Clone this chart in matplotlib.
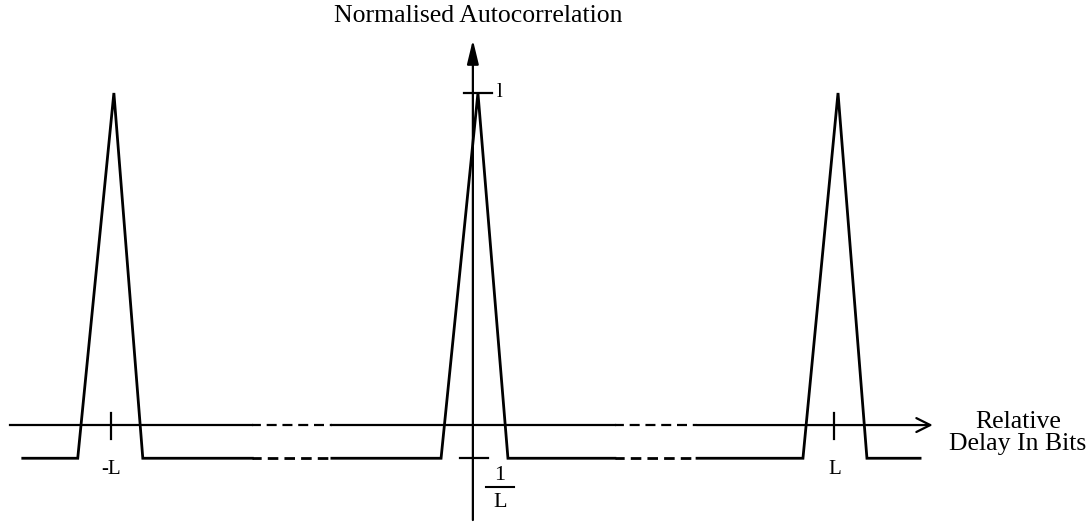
import matplotlib
matplotlib.use('Agg')
from matplotlib import pyplot as plt

plt.rcParams['font.family'] = ['Liberation Serif', 'DejaVu Serif']

# sequence length, peaks at -L, 0, L ; floor at -1/L
L = 10

# autocorrelation trace (x in bits, y normalised)
corr_x = [-12.45, -10.93, -9.93, -9.13, -6.1,
          -3.9, -0.88, 0.14, 0.97, 3.93,
          6.2, 9.13, 10.1, 10.9, 12.37]
corr_y = [-0.1, -0.1, 1.0, -0.1, -0.1,
          -0.1, -0.1, 1.0, -0.1, -0.1,
          -0.1, -0.1, 1.0, -0.1, -0.1]

# the parts of the trace and x axis that are drawn dashed
gap_left = (-6.1, -3.9)
gap_right = (3.93, 6.2)

xaxis_range = (-12.8, 12.72)
yaxis_range = (-0.286, 1.16)

fig = plt.figure(figsize=(10.9, 5.25), dpi=100)
ax = fig.add_axes([0, 0, 1, 1])
ax.set_xlim(-13.08, 17.07)
ax.set_ylim(-0.301, 1.28)
ax.axis('off')

lw = 2.0
alw = 1.6
# trace, solid pieces and dashed pieces
seg = [(corr_x[:5], corr_y[:5]), (corr_x[5:10], corr_y[5:10]), (corr_x[10:], corr_y[10:])]
for xs, ys in seg:
    ax.plot(xs, ys, color='black', lw=lw, solid_joinstyle='miter')
for g in (gap_left, gap_right):
    ax.plot(g, [-1 / L, -1 / L], color='black', lw=lw, ls=(0.5, (3.8, 2.2)))

# x axis
ax.plot([xaxis_range[0], gap_left[0]], [0, 0], color='black', lw=alw)
ax.plot(gap_left, [0, 0], color='black', lw=alw, ls=(0.5, (4.5, 2.6)))
ax.plot([gap_left[1], gap_right[0]], [0, 0], color='black', lw=alw)
ax.plot(gap_right, [0, 0], color='black', lw=alw, ls=(0.5, (4.5, 2.6)))
ax.annotate('', xy=(xaxis_range[1], 0), xytext=(gap_right[1], 0),
            arrowprops=dict(arrowstyle='->', color='black', lw=alw,
                            mutation_scale=25, shrinkA=0, shrinkB=0))

# y axis
ax.annotate('', xy=(0, yaxis_range[1]), xytext=(0, yaxis_range[0]),
            arrowprops=dict(arrowstyle='-|>,head_width=0.14,head_length=0.58', color='black',
                            lw=alw, mutation_scale=25, shrinkA=0, shrinkB=0))

# ticks
for xt in (-L, L):
    ax.plot([xt, xt], [-0.042, 0.036], color='black', lw=alw)
ax.plot([-0.25, 0.53], [1, 1], color='black', lw=alw)
ax.plot([-0.36, 0.41], [-1 / L, -1 / L], color='black', lw=alw)

fs = 18.5
ax.text(-L, -0.135, '-L', ha='center', va='center', fontsize=15)
ax.text(L, -0.135, 'L', ha='center', va='center', fontsize=15)
ax.text(0.75, 1.0, 'l', ha='center', va='center', fontsize=15)
ax.text(0.75, -0.152, '1', ha='center', va='center', fontsize=16)
ax.plot([0.35, 1.15], [-0.187, -0.187], color='black', lw=1.5)
ax.text(0.75, -0.232, 'L', ha='center', va='center', fontsize=16)

ax.text(0.14, 1.232, 'Normalised Autocorrelation', ha='center', va='center', fontsize=fs)
ax.text(15.08, -0.024, 'Relative\nDelay In Bits', ha='center', va='center',
        fontsize=fs, linespacing=1.0)

fig.savefig('out.png', dpi=100)
